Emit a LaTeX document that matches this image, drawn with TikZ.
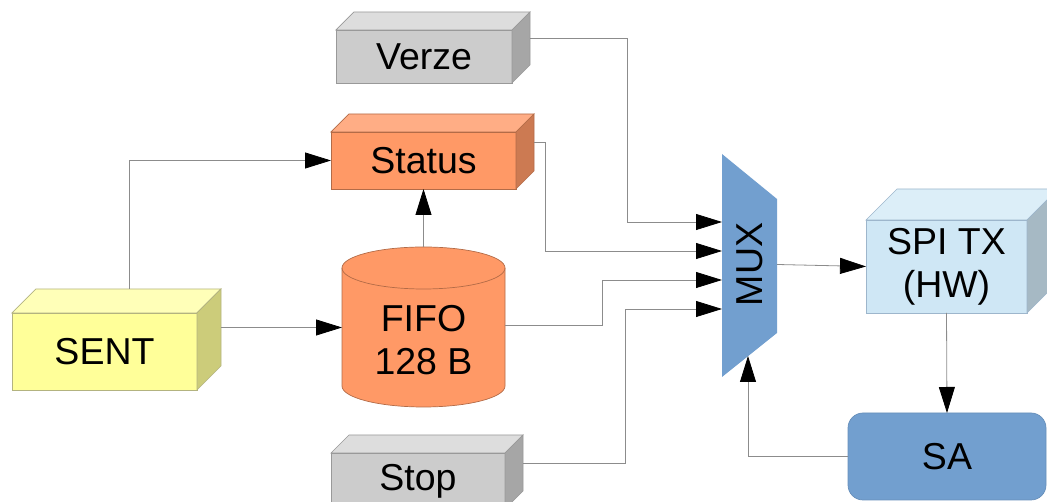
\documentclass[tikz,border=0pt]{standalone}
\usepackage{fontspec}
\setmainfont{Liberation Sans}
\usetikzlibrary{arrows.meta,calc}
\definecolor{sentfront}{HTML}{FFFF99}
\definecolor{senttop}{HTML}{FFFFB8}
\definecolor{sentside}{HTML}{CCCC7A}
\definecolor{sentedge}{HTML}{B3B380}
\definecolor{orfront}{HTML}{FF9966}
\definecolor{ortop}{HTML}{FFAD85}
\definecolor{orside}{HTML}{CC7A52}
\definecolor{oredge}{HTML}{B36B47}
\definecolor{grfront}{HTML}{CCCCCC}
\definecolor{grtop}{HTML}{DDDDDD}
\definecolor{grside}{HTML}{A6A6A6}
\definecolor{gredge}{HTML}{999999}
\definecolor{spifront}{HTML}{CFE7F5}
\definecolor{spitop}{HTML}{DCEEF8}
\definecolor{spiside}{HTML}{A6B9C4}
\definecolor{spiedge}{HTML}{9DB6CC}
\definecolor{muxblue}{HTML}{729FCF}
\definecolor{wiregray}{HTML}{8C8C8C}
% top and side face of a box node: node, depth, top, side, edge
\newcommand{\cubefaces}[5]{%
  \filldraw[fill=#3,draw=#5,line width=0.7pt] (#1.north west) -- ++(#2,#2) -- ($(#1.north east)+(#2,#2)$) -- (#1.north east) -- cycle;
  \filldraw[fill=#4,draw=#5,line width=0.7pt] (#1.north east) -- ++(#2,#2) -- ($(#1.south east)+(#2,#2)$) -- (#1.south east) -- cycle;
  \coordinate (#1-b) at ($(#1.east)+(#2,#2)$);
}

\begin{document}
\begin{tikzpicture}[x=1pt,y=1pt,
  txt/.style={inner sep=0pt,outer sep=0pt,font=\fontsize{37.5}{43}\selectfont},
  cube/.style={txt,draw,line width=0.7pt},
  wire/.style={draw=wiregray,line width=0.8pt,-{Triangle[length=26pt,width=16pt,color=black]}}]
\useasboundingbox (0,0) rectangle (1047,502);
% \draw[help lines,step=50] (0,0) grid (1047,502);
\node (verze) [cube,fill=grfront,draw=gredge,minimum width=176pt,minimum height=53pt] at (424,445.5) {Verze};
\cubefaces{verze}{18}{grtop}{grside}{gredge}
\node (status) [cube,fill=orfront,draw=oredge,minimum width=185pt,minimum height=57pt] at (423.5,341.5) {Status};
\cubefaces{status}{18}{ortop}{orside}{oredge}
\node (sent) [cube,fill=sentfront,draw=sentedge,minimum width=185pt,minimum height=77pt] at (104.5,150.5) {SENT};
\cubefaces{sent}{24}{senttop}{sentside}{sentedge}
\node (stop) [cube,fill=grfront,draw=gredge,minimum width=174pt,minimum height=56pt] at (418,21) {Stop};
\cubefaces{stop}{18}{grtop}{grside}{gredge}
\node (spi) [cube,fill=spifront,draw=spiedge,minimum width=161pt,minimum height=93pt,align=center] at (946.5,235.5) {SPI TX\\(HW)};
\cubefaces{spi}{31}{spitop}{spiside}{spiedge}
\node (sa) [cube,fill=muxblue,draw=muxblue!90!black,rounded corners=15pt,minimum width=198pt,minimum height=87pt] at (947,45.5) {SA};
%
% FIFO drum
\filldraw[fill=orfront,draw=oredge,line width=0.7pt] (342,234) -- (342,116)
  arc[start angle=180,end angle=360,x radius=81.5pt,y radius=21pt] -- (505,234)
  arc[start angle=0,end angle=180,x radius=81.5pt,y radius=21pt] -- cycle;
\draw[oredge,line width=0.7pt] (342,234) arc[start angle=180,end angle=360,x radius=81.5pt,y radius=21pt];
\node (fifo) [txt,minimum width=163pt,minimum height=160pt] at (423.5,175) {};
\node (fifolbl) [txt,align=center,yshift=-13pt] at (fifo) {FIFO\\128 B};
%
% MUX
\fill[muxblue] (722,125) -- (722,348) -- (777,303) -- (777,169) -- cycle;
\node (mux) [txt,minimum width=55pt,minimum height=223pt] at (749.5,237.5) {\rotatebox{90}{MUX}};
\coordinate (mux-sel) at (748,146);
\coordinate (in1) at ([yshift=42.5pt]mux.west);
\coordinate (in2) at ([yshift=13.5pt]mux.west);
\coordinate (in3) at ([yshift=-15.5pt]mux.west);
\coordinate (in4) at ([yshift=-44.5pt]mux.west);
%
\draw[wire] ($(sent.north)+(25,24)$) |- (status.west);
\draw[wire] (sent-b) -- (sent-b -| fifo.west);
\draw[wire] (fifo.north) -- (status.south);
\draw[wire] (verze-b) -- ++(97,0) |- (in1);
\draw[wire] (status-b) -- ++(11,0) |- (in2);
\draw[wire] (fifo.east) ++(0,2) -- ++(97,0) |- (in3);
\draw[wire] (stop-b) -- ++(102,0) |- (in4);
\draw[wire] (mux.east) -- (spi.west);
\draw[wire] (spi.south) -- (sa.north);
\draw[wire] (sa.west) -| (mux-sel);
\end{tikzpicture}
\end{document}
